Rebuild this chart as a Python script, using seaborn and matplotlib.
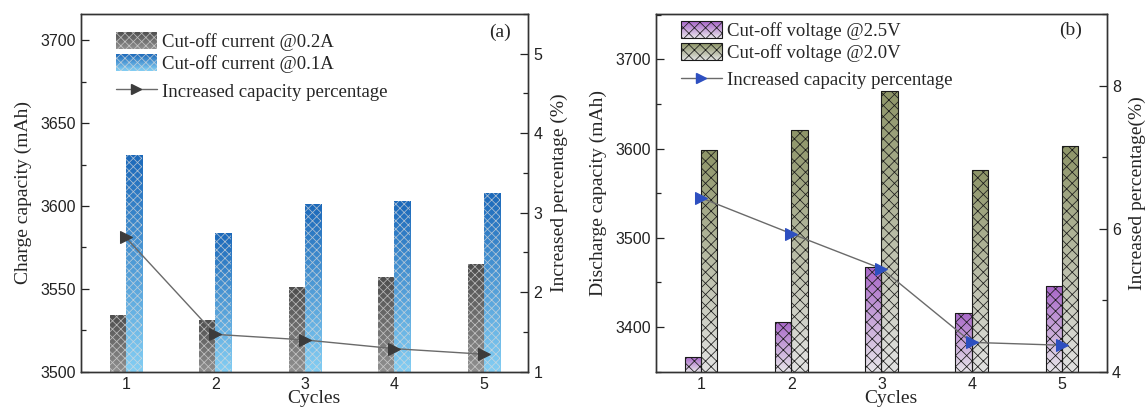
import numpy as np
import pandas as pd
import matplotlib
matplotlib.use("Agg")
import matplotlib.pyplot as plt
import seaborn as sns
from matplotlib.colors import LinearSegmentedColormap
from matplotlib.lines import Line2D
from matplotlib.patches import Rectangle
from matplotlib.legend_handler import HandlerBase
from matplotlib.ticker import MultipleLocator

# ---------------- data ----------------
cycles = [1, 2, 3, 4, 5]

# (a) charge capacity for two cut-off currents (mAh) and relative gain (%)
charge_cutoff_02A = [3534, 3531, 3551, 3557, 3565]
charge_cutoff_01A = [3631, 3584, 3601, 3603, 3608]
charge_increase_pct = [2.69, 1.47, 1.40, 1.29, 1.22]

# (b) discharge capacity for two cut-off voltages (mAh) and relative gain (%)
discharge_cutoff_25V = [3366, 3406, 3467, 3416, 3446]
discharge_cutoff_20V = [3599, 3621, 3665, 3576, 3603]
discharge_increase_pct = [6.43, 5.93, 5.44, 4.41, 4.37]

labels_a = ["Cut-off current @0.2A", "Cut-off current @0.1A"]
labels_b = ["Cut-off voltage @2.5V", "Cut-off voltage @2.0V"]
line_label = "Increased capacity percentage"

# ---------------- style ----------------
sns.set_style("white")
SERIF = ["Liberation Serif", "DejaVu Serif"]
SANS = ["Liberation Sans", "DejaVu Sans"]
plt.rcParams["font.family"] = SANS
plt.rcParams["hatch.linewidth"] = 0.55

cmap_gray = LinearSegmentedColormap.from_list("gray_grad", ["#909090", "#4e4e4e"])
cmap_blue = LinearSegmentedColormap.from_list("blue_grad", ["#84cef3", "#1c69ba"])
cmap_purple = LinearSegmentedColormap.from_list("purple_grad", ["#e8e6ea", "#a866c8"])
cmap_olive = LinearSegmentedColormap.from_list("olive_grad", ["#e2e2e2", "#8e9568"])


class GradientKey:
    def __init__(self, cmap, hatch, hatch_color, edge_lw):
        self.cmap = cmap
        self.hatch = hatch
        self.hatch_color = hatch_color
        self.edge_lw = edge_lw


class HandlerGradient(HandlerBase):
    def create_artists(self, legend, orig_handle, xdescent, ydescent,
                       width, height, fontsize, trans):
        n = 30
        x0, y0 = -xdescent, -ydescent
        arts = []
        for i in range(n):
            r = Rectangle((x0, y0 + i * height / n), width, height / n * 1.05,
                          facecolor=orig_handle.cmap((i + 0.5) / n),
                          edgecolor="none", lw=0, antialiased=False,
                          transform=trans)
            arts.append(r)
        top = Rectangle((x0, y0), width, height, facecolor="none",
                        edgecolor=orig_handle.hatch_color,
                        hatch=orig_handle.hatch, lw=orig_handle.edge_lw,
                        transform=trans)
        arts.append(top)
        return arts


LEGEND_KW = dict(loc="upper left", frameon=False,
                 prop={"family": SERIF, "size": 13.5}, handlelength=2.2,
                 handleheight=1.0, handletextpad=0.25, labelspacing=0.17,
                 borderpad=0, borderaxespad=0)


def draw_panel(ax, v1, v2, labels, pct, cmaps, hatch, hatch_color, edge_lw,
               ylim, yloc, ylim2, yloc2, marker_color, ylabel, ylabel2,
               tag, tag_xy, bar_legend_xy, line_legend_xy):
    df = pd.DataFrame({
        "Cycles": cycles * 2,
        "Capacity": v1 + v2,
        "Condition": [labels[0]] * len(cycles) + [labels[1]] * len(cycles),
    })
    sns.barplot(data=df, x="Cycles", y="Capacity", hue="Condition",
                hue_order=labels, native_scale=True, width=0.36, dodge=True,
                errorbar=None, legend=False, saturation=1,
                palette=[cmaps[0](0.5), cmaps[1](0.5)], ax=ax)
    ax.set_xlim(0.5, 5.5)
    ax.set_ylim(*ylim)

    # vertical colour gradient behind each hatched bar
    for p in list(ax.patches):
        x0 = p.get_x()
        w = p.get_width()
        top = p.get_y() + p.get_height()
        centre = x0 + w / 2
        idx = 0 if centre < round(centre) else 1
        grad = np.linspace(0, 1, 256).reshape(-1, 1)
        im = ax.imshow(grad, extent=(x0, x0 + w, ylim[0], top), origin="lower",
                       cmap=cmaps[idx], aspect="auto", zorder=1.5,
                       interpolation="bilinear")
        im.set_clip_path(p)
        p.set_facecolor("none")
        p.set_hatch(hatch)
        p.set_edgecolor(hatch_color)
        p.set_linewidth(edge_lw)
        p.set_zorder(2)
    ax.set_xlim(0.5, 5.5)
    ax.set_ylim(*ylim)

    ax.set_xticks(cycles)
    ax.xaxis.set_minor_locator(MultipleLocator(0.5))
    ax.yaxis.set_major_locator(MultipleLocator(yloc))
    ax.yaxis.set_minor_locator(MultipleLocator(yloc / 2))
    ax.tick_params(which="both", direction="in", labelsize=11.5, colors="#222",
                   width=0.9)
    ax.tick_params(which="major", length=6)
    ax.tick_params(which="minor", length=3.5)
    ax.tick_params(axis="x", which="major", pad=3.5)
    ax.set_xlabel("Cycles", family=SERIF, fontsize=14)
    ax.xaxis.set_label_coords(0.52, -0.05)
    ax.set_ylabel(ylabel, family=SERIF, fontsize=14, labelpad=6)

    ax2 = ax.twinx()
    sns.lineplot(x=cycles, y=pct, ax=ax2, color="#6a6a6a", lw=1.0,
                 marker=">", markersize=8, markerfacecolor=marker_color,
                 markeredgecolor=marker_color)
    ax2.set_xlim(0.5, 5.5)
    ax2.set_ylim(*ylim2)
    ax2.yaxis.set_major_locator(MultipleLocator(yloc2))
    ax2.yaxis.set_minor_locator(MultipleLocator(yloc2 / 2))
    ax2.tick_params(which="both", direction="in", labelsize=11.5, colors="#222",
                    width=0.9)
    ax2.tick_params(which="major", length=6)
    ax2.tick_params(which="minor", length=3.5)
    ax2.set_ylabel(ylabel2, family=SERIF, fontsize=14, labelpad=6)

    for a in (ax, ax2):
        for s in a.spines.values():
            s.set_linewidth(1.0)
            s.set_color("#333333")

    bar_keys = [GradientKey(cmaps[0], hatch, hatch_color, edge_lw),
                GradientKey(cmaps[1], hatch, hatch_color, edge_lw)]
    leg_bars = ax2.legend(bar_keys, labels,
                          handler_map={GradientKey: HandlerGradient()},
                          bbox_to_anchor=bar_legend_xy, **LEGEND_KW)
    ax2.add_artist(leg_bars)
    line_key = Line2D([], [], color="#6a6a6a", lw=1.0, marker=">",
                      markersize=7, markerfacecolor=marker_color,
                      markeredgecolor=marker_color)
    ax2.legend([line_key], [line_label], bbox_to_anchor=line_legend_xy,
               **LEGEND_KW)
    ax2.text(*tag_xy, tag, transform=ax2.transAxes, family=SERIF, fontsize=14,
             ha="center", va="center")
    return ax, ax2


fig = plt.figure(figsize=(11.45, 4.09), dpi=100)
axA = fig.add_axes([0.0707, 0.0912, 0.3908, 0.8746])
axB = fig.add_axes([0.5729, 0.0912, 0.3939, 0.8746])

draw_panel(axA, charge_cutoff_02A, charge_cutoff_01A, labels_a,
           charge_increase_pct, (cmap_gray, cmap_blue), "xxxx",
           (0.86, 0.86, 0.86, 0.75), 0,
           (3500, 3716), 50, (1, 5.5), 1, "#3c3c3c",
           "Charge capacity (mAh)", "Increased percentage (%)",
           "(a)", (0.936, 0.95), (0.078, 0.95), (0.078, 0.81))

draw_panel(axB, discharge_cutoff_25V, discharge_cutoff_20V, labels_b,
           discharge_increase_pct, (cmap_purple, cmap_olive), "xxx",
           "#1a1a1a", 0.8,
           (3350, 3751), 100, (4, 9), 2, "#2d4fc0",
           "Discharge capacity (mAh)", "Increased percentage(%)",
           "(b)", (0.919, 0.955), (0.055, 0.979), (0.055, 0.843))

fig.savefig("out.png", dpi=100)
